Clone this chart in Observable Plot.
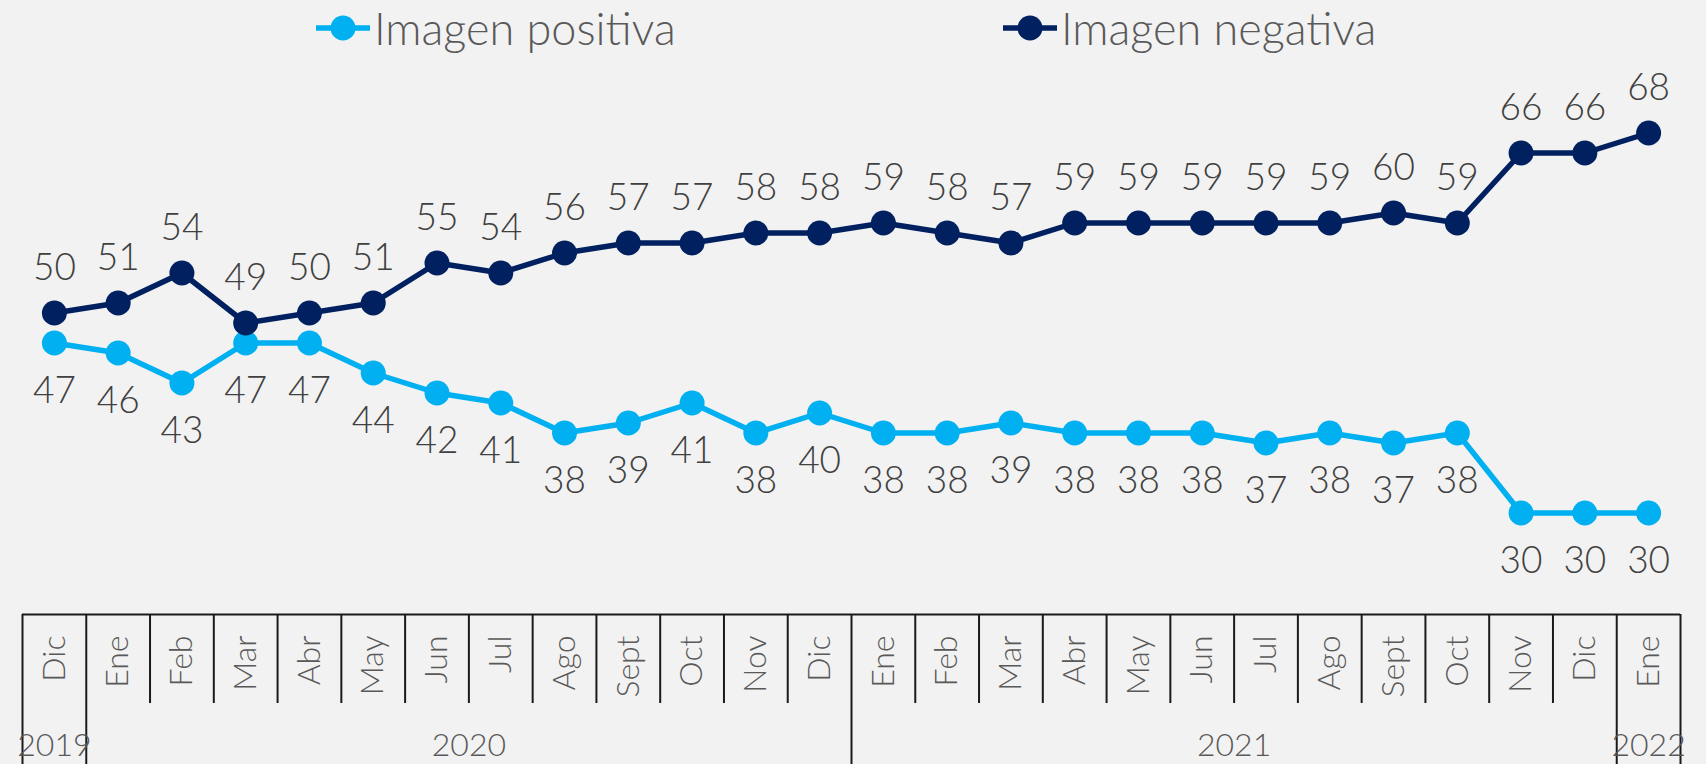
<!DOCTYPE html>
<html><head><meta charset="utf-8">
<script src="https://cdn.jsdelivr.net/npm/d3@7"></script>
<script src="https://cdn.jsdelivr.net/npm/@observablehq/plot@0.6"></script>
<style>
html,body{margin:0;padding:0;background:#f2f2f2;}
#chart{position:relative;width:1706px;height:764px;overflow:hidden;}
#chart svg{display:block}
#chart svg.legend{position:absolute;left:0;top:0;overflow:visible}
#chart svg.main{margin-top:56px}
</style></head><body><div id="chart"></div>
<script>
// ---- data ----
const months = ["Dic","Ene","Feb","Mar","Abr","May","Jun","Jul","Ago","Sept","Oct","Nov","Dic",
                "Ene","Feb","Mar","Abr","May","Jun","Jul","Ago","Sept","Oct","Nov","Dic","Ene"];
const years = ["2019","2020","2021","2022"];
const yearStart = [0, 1, 13, 25];
const yearEnd   = [0, 12, 24, 25];
const positiva = [47,46,43,47,47,44,42,41,38,39,41,38,40,38,38,39,38,38,38,37,38,37,38,30,30,30];
const negativa = [50,51,54,49,50,51,55,54,56,57,57,58,58,59,58,57,59,59,59,59,59,60,59,66,66,68];
const seriesNames = ["Imagen positiva","Imagen negativa"];
const seriesColors = ["#00b0f0","#002060"];

const FONT = "Lato, 'Noto Sans', sans-serif";
const W = 1706;
const root = d3.select("#chart");

// ---- chart ----
const rows = months.map((m, i) => ({i, m, pos: positiva[i], neg: negativa[i]}));
const xScale = {type: "linear", domain: [-0.5, months.length - 0.5], range: [22, 1680], axis: null};

const chart = Plot.plot({
  width: W, height: 557, margin: 0,
  style: {background: "transparent", fontFamily: FONT, fontWeight: 300},
  x: xScale,
  y: {domain: [30, 68], range: [456.5, 76.5], axis: null},
  marks: [
    Plot.line(rows, {x: "i", y: "pos", stroke: seriesColors[0], strokeWidth: 5.5}),
    Plot.dot(rows, {x: "i", y: "pos", r: 12.5, fill: seriesColors[0]}),
    Plot.line(rows, {x: "i", y: "neg", stroke: seriesColors[1], strokeWidth: 5.5}),
    Plot.dot(rows, {x: "i", y: "neg", r: 12.5, fill: seriesColors[1]}),
    Plot.text(rows, {x: "i", y: "neg", text: "neg", dy: -33, lineAnchor: "bottom", fontSize: 37, fill: "#404040"}),
    Plot.text(rows, {x: "i", y: "pos", text: "pos", dy: 60, lineAnchor: "bottom", fontSize: 37, fill: "#404040"})
  ]
});
chart.classList.add("main");
root.node().appendChild(chart);

// ---- category table axis ----
const yearBounds = [-0.5, ...yearStart.slice(1).map(s => s - 0.5), months.length - 0.5];
const monthBounds = d3.range(1, months.length).filter(k => !yearStart.includes(k)).map(k => k - 0.5);

const table = Plot.plot({
  width: W, height: 151, margin: 0,
  style: {background: "transparent", fontFamily: FONT, fontWeight: 300},
  x: xScale,
  y: {type: "linear", domain: [0, 151], range: [0, 151], axis: null},
  marks: [
    Plot.ruleY([1], {x1: -0.5, x2: months.length - 0.5, stroke: "#1a1a1a", strokeWidth: 2}),
    Plot.ruleX(monthBounds, {y1: 1, y2: 90, stroke: "#1a1a1a", strokeWidth: 2}),
    Plot.ruleX(yearBounds, {y1: 1, y2: 151, stroke: "#1a1a1a", strokeWidth: 2}),
    Plot.text(months, {x: (d, i) => i, y: 22, text: d => d, rotate: -90, textAnchor: "end",
      lineAnchor: "middle", fontSize: 32, fill: "#595959"}),
    Plot.text(years, {x: (d, j) => (yearStart[j] + yearEnd[j]) / 2, y: 142, text: d => d,
      lineAnchor: "bottom", fontSize: 32, fill: "#595959"})
  ]
});
root.node().appendChild(table);

// ---- legend (overlay at top) ----
const legendX = [316, 1003];
const leg = root.append("svg").attr("class", "legend").attr("width", W).attr("height", 70);
seriesNames.forEach((name, k) => {
  const g = leg.append("g").attr("transform", `translate(${legendX[k]},0)`);
  g.append("line").attr("x1", 0).attr("x2", 54).attr("y1", 28).attr("y2", 28)
    .attr("stroke", seriesColors[k]).attr("stroke-width", 5.5);
  g.append("circle").attr("cx", 27).attr("cy", 28).attr("r", 12.5).attr("fill", seriesColors[k]);
  g.append("text").attr("x", 58).attr("y", 45).text(name)
    .attr("font-family", FONT).attr("font-weight", 300).attr("font-size", 45).attr("fill", "#595959");
});
</script>
</body></html>
